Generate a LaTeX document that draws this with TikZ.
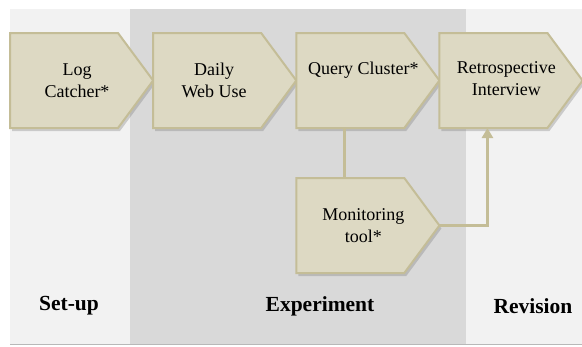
\documentclass[tikz,border=0pt]{standalone}
\usepackage{fontspec}
\setmainfont{Liberation Serif}
\usetikzlibrary{shapes.symbols,shadows,arrows.meta,positioning}
\definecolor{boxfill}{HTML}{DDD9C3}
\definecolor{boxline}{HTML}{C4BD97}
\definecolor{phaselight}{HTML}{F2F2F2}
\definecolor{phasedark}{HTML}{D9D9D9}
\tikzset{
    stepbox/.style={signal, signal to=east, signal pointer angle=107,
        fill=boxfill, draw=boxline, line width=2pt,
        text width=108pt, minimum height=95pt, inner sep=0pt, outer sep=0pt,
        drop shadow={shadow xshift=2pt, shadow yshift=-3pt, opacity=0.35}},
    steptext/.style={align=center, font=\fontsize{18}{21.5}\selectfont},
    phaselabel/.style={font=\fontsize{21.5}{25}\selectfont\bfseries},
    link/.style={draw=boxline, line width=2.5pt},
}

\begin{document}
\begin{tikzpicture}[x=1pt,y=-1pt]
    \useasboundingbox (0,0) rectangle (582,346);
    % phases
    \fill[phaselight] (10,9) rectangle (582,344);
    \fill[phasedark] (130,9) rectangle (466,344);
    \draw[phasedark!85!black, thin] (10,344) -- (582,344);
    % steps
    \node[stepbox] (logcatcher) at (64,80.5) {};
    \node[stepbox, right=0pt of logcatcher] (dailyweb) {};
    \node[stepbox, right=0pt of dailyweb] (querycluster) {};
    \node[stepbox, right=0pt of querycluster] (retrospective) {};
    \node[stepbox, below=50pt of querycluster] (monitoring) {};
    % connectors
    \draw[link] ([xshift=-6pt]querycluster.south) -- ([xshift=-6pt]monitoring.north);
    \draw[link, -{Triangle[length=10pt, width=11pt]}]
        (monitoring.east) -| ([xshift=-6pt]retrospective.south);
    % texts
    \node[steptext] (logcatcher-text) at ([xshift=13pt]logcatcher.center) {Log\\Catcher*};
    \node[steptext] (dailyweb-text) at ([xshift=7pt]dailyweb.center) {Daily\\Web Use};
    \node[steptext] (querycluster-text) at ([xshift=13pt,yshift=10pt]querycluster.center) {Query Cluster*};
    \node[steptext] (retrospective-text) at ([xshift=13pt,yshift=2pt]retrospective.center) {Retrospective\\Interview};
    \node[steptext] (monitoring-text) at ([xshift=13pt]monitoring.center) {Monitoring\\tool*};
    % phase labels
    \node[phaselabel] (setup) at (69,306) {Set-up};
    \node[phaselabel] (experiment) at (320,306) {Experiment};
    \node[phaselabel] (revision) at (533,306) {Revision};
\end{tikzpicture}
\end{document}
